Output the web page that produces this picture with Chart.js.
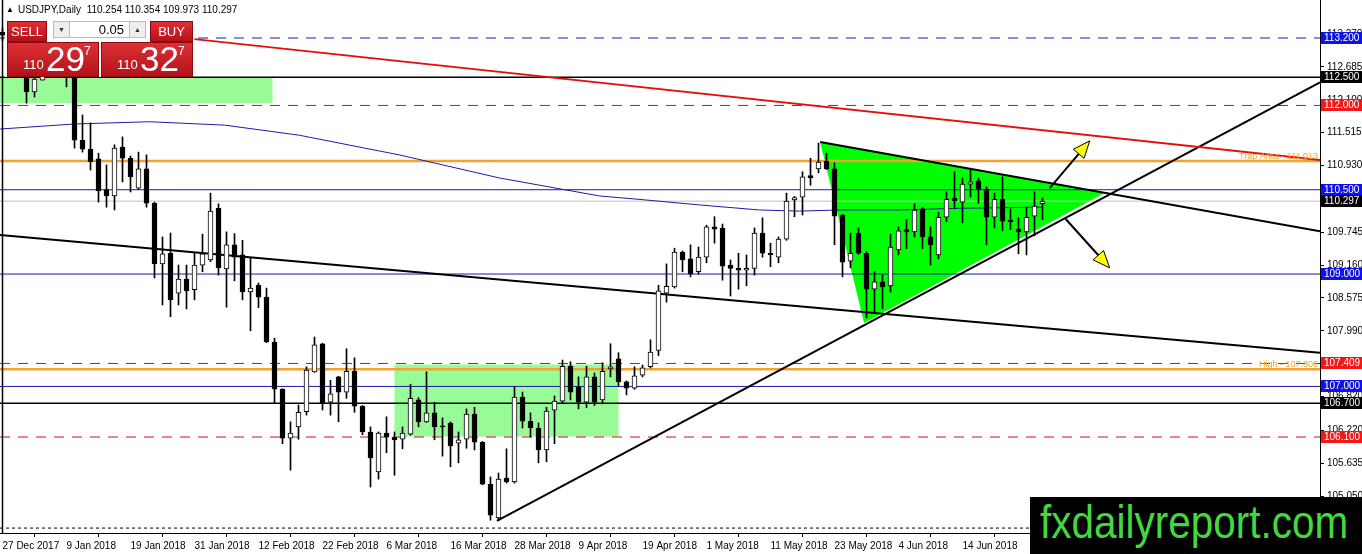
<!DOCTYPE html>
<html>
<head>
<meta charset="utf-8">
<script src="https://cdn.jsdelivr.net/npm/chart.js@4.4.1/dist/chart.umd.min.js"></script>
<style>
  html, body { margin: 0; padding: 0; background: #fff; }
  #wrap { position: relative; width: 1362px; height: 554px; overflow: hidden; font-family: 'Liberation Sans', Arial, sans-serif; }
  #chart { position: absolute; left: 0; top: 0; }
  #hdr { position: absolute; left: 5px; top: 4px; font-size: 10px; line-height: 11px; color: #000; white-space: pre; }
  #hdr .tri { font-size: 8px; vertical-align: 1px; margin-right: 4px; margin-left: 1px; }
  #panel { position: absolute; left: 5px; top: 18px; width: 188px; height: 59px; background: #fff; }
  .red { position: absolute; background: linear-gradient(#de3036, #b3121a); border: 1px solid #8e0a10; box-sizing: border-box; color: #fff; }
  .btn { top: 3px; height: 21px; font-size: 13px; line-height: 19px; text-align: center; }
  .sell { left: 2px; width: 40px; }
  .buy { left: 145px; width: 43px; }
  .spin { position: absolute; top: 3px; width: 17px; height: 17px; background: #eee; border: 1px solid #bbb; box-sizing: border-box; font-size: 7px; line-height: 15px; text-align: center; color: #333; }
  .dn { left: 48px; }
  .up { left: 124px; }
  .lot { position: absolute; left: 65px; top: 3px; width: 59px; height: 17px; border-top: 1px solid #bbb; border-bottom: 1px solid #bbb; box-sizing: border-box; font-size: 13px; line-height: 15px; text-align: right; padding-right: 5px; color: #000; }
  .quote { top: 24px; width: 92px; height: 35px; }
  .q1 { left: 2px; }
  .q2 { left: 96px; }
  .quote span { position: absolute; line-height: 1; white-space: nowrap; }
  .s1 { font-size: 13px; left: 15px; top: 15px; }
  .s2 { font-size: 35px; left: 38px; top: -2px; }
  .s3 { font-size: 12px; left: 76px; top: 2px; }
  #wm { position: absolute; left: 1030px; top: 497px; width: 332px; height: 57px; background: #000; overflow: hidden; }
  #wm span { position: absolute; left: 10px; top: 2px; font-size: 46px; line-height: 1; color: #44d83c; transform: scaleX(0.88); transform-origin: left top; white-space: nowrap; }
</style>
</head>
<body>
<div id="wrap">
  <canvas id="chart" width="1362" height="554"></canvas>
  <div id="hdr"><span class="tri">▲</span>USDJPY,Daily  110.254 110.354 109.973 110.297</div>
  <div id="panel">
    <div class="red btn sell">SELL</div>
    <div class="spin dn">▼</div>
    <div class="lot">0.05</div>
    <div class="spin up">▲</div>
    <div class="red btn buy">BUY</div>
    <div class="red quote q1"><span class="s1">110</span><span class="s2">29</span><span class="s3">7</span></div>
    <div class="red quote q2"><span class="s1">110</span><span class="s2">32</span><span class="s3">7</span></div>
  </div>
  <div id="wm"><span>fxdailyreport.com</span></div>
</div>
<script>
const dateLabels = ['27 Dec 2017', '9 Jan 2018', '19 Jan 2018', '31 Jan 2018', '12 Feb 2018', '22 Feb 2018',
  '6 Mar 2018', '16 Mar 2018', '28 Mar 2018', '9 Apr 2018', '19 Apr 2018', '1 May 2018', '11 May 2018',
  '23 May 2018', '4 Jun 2018', '14 Jun 2018'];
const barsPerLabel = 8;

const openP = [113.30, 113.25, 112.90, 112.65, 112.24, 112.45, 112.75, 113.05, 113.10, 112.60,
  111.38, 111.22, 111.05, 110.50, 110.39, 111.26, 111.06, 110.53, 110.87, 110.26,
  109.18, 109.37, 108.66, 108.91, 108.72, 109.16, 109.25, 110.17, 109.09, 109.52,
  109.34, 108.68, 108.80, 108.59, 107.79, 106.95, 106.08, 106.28, 106.55, 107.26,
  107.76, 106.72, 107.17, 106.90, 107.27, 106.65, 106.19, 105.48, 106.17, 106.10,
  106.06, 106.15, 106.76, 106.37, 106.53, 106.30, 106.35, 105.99, 106.06, 106.51,
  106.01, 105.26, 104.66, 105.37, 105.30, 106.81, 106.38, 106.26, 105.87, 106.58,
  106.74, 107.36, 106.99, 106.72, 107.17, 106.76, 107.31, 107.49, 107.08, 106.97,
  107.20, 107.35, 107.64, 108.66, 108.77, 109.39, 109.27, 109.04, 109.30, 109.84,
  109.82, 109.16, 109.10, 109.07, 109.10, 109.73, 109.37, 109.30, 109.62, 110.32,
  110.37, 110.75, 110.87, 111.01, 110.87, 110.05, 109.23, 109.73, 109.37, 108.73,
  108.86, 108.79, 109.43, 109.79, 109.75, 110.16, 109.66, 109.34, 110.01, 110.35,
  110.28, 110.60, 110.66, 110.51, 110.01, 110.33, 109.96, 109.80, 109.75, 110.03,
  110.254];
const highP = [113.38, 113.30, 112.95, 112.70, 112.60, 112.80, 113.25, 113.20, 113.35, 112.75,
  111.83, 111.69, 111.15, 110.94, 111.30, 111.44, 111.10, 111.17, 111.12, 110.28,
  109.66, 109.73, 109.16, 109.16, 109.37, 109.71, 110.44, 110.25, 109.75, 109.72,
  109.60, 109.29, 108.84, 108.75, 107.86, 106.96, 106.37, 106.67, 107.35, 107.88,
  107.77, 107.11, 107.18, 107.67, 107.51, 106.66, 106.28, 106.19, 106.46, 106.19,
  106.28, 107.04, 106.80, 107.26, 106.72, 106.44, 106.37, 106.19, 106.60, 106.63,
  106.02, 105.39, 105.46, 105.89, 106.99, 106.90, 106.53, 106.35, 106.63, 106.83,
  107.47, 107.44, 107.17, 107.36, 107.24, 107.42, 107.76, 107.60, 107.10, 107.35,
  107.38, 107.83, 108.80, 109.18, 109.46, 109.41, 109.52, 109.48, 109.87, 110.02,
  109.89, 109.25, 109.37, 109.34, 109.82, 110.00, 109.55, 109.66, 110.44, 110.38,
  110.82, 111.06, 111.33, 111.15, 110.98, 110.06, 109.73, 109.82, 109.40, 109.04,
  108.98, 109.71, 109.84, 109.97, 110.25, 110.18, 109.84, 110.10, 110.46, 110.82,
  110.71, 110.85, 110.71, 110.55, 110.44, 110.73, 110.16, 110.00, 110.19, 110.46,
  110.354];
const lowP = [113.15, 112.85, 112.55, 112.04, 112.15, 112.45, 112.70, 112.90, 112.33, 111.24,
  111.17, 110.85, 110.28, 110.19, 110.14, 110.64, 110.46, 110.50, 110.19, 108.93,
  108.45, 108.24, 108.45, 108.38, 108.54, 109.04, 109.22, 108.98, 108.41, 108.88,
  108.54, 107.99, 108.40, 107.78, 106.70, 105.98, 105.51, 106.06, 106.49, 107.25,
  106.58, 106.49, 106.37, 106.79, 106.54, 106.14, 105.21, 105.35, 105.82, 105.42,
  105.89, 106.13, 106.28, 106.36, 106.05, 105.76, 105.57, 105.64, 105.90, 105.87,
  105.25, 104.62, 104.61, 105.28, 105.28, 106.26, 106.10, 105.64, 105.66, 105.98,
  106.71, 106.76, 106.60, 106.62, 106.66, 106.69, 107.17, 107.01, 106.85, 106.95,
  107.17, 107.33, 107.55, 108.50, 108.75, 109.04, 108.95, 109.00, 109.20, 109.55,
  108.89, 108.61, 108.73, 108.79, 108.98, 109.30, 109.13, 109.20, 109.60, 110.02,
  110.05, 110.58, 110.80, 110.86, 109.52, 108.95, 109.11, 109.35, 108.22, 108.31,
  108.38, 108.68, 109.34, 109.45, 109.66, 109.45, 109.16, 109.27, 109.93, 110.16,
  109.91, 110.37, 110.26, 109.52, 109.82, 109.77, 109.79, 109.36, 109.34, 109.68,
  109.973];
const closeP = [113.25, 112.90, 112.65, 112.24, 112.47, 112.75, 113.05, 113.10, 112.62, 111.38,
  111.22, 111.00, 110.48, 110.39, 111.24, 111.06, 110.73, 110.87, 110.26, 109.18,
  109.36, 108.54, 108.91, 108.70, 109.16, 109.36, 110.12, 109.11, 109.52, 109.30,
  108.68, 108.75, 108.59, 107.79, 106.95, 106.08, 106.17, 106.54, 107.29, 107.74,
  106.71, 106.87, 106.90, 107.27, 106.65, 106.19, 105.73, 106.17, 106.10, 106.05,
  106.17, 106.79, 106.37, 106.53, 106.28, 106.28, 105.94, 106.05, 106.51, 106.01,
  105.26, 104.71, 105.35, 105.30, 106.81, 106.38, 106.26, 105.87, 106.56, 106.74,
  107.36, 106.90, 106.72, 107.17, 106.72, 107.27, 107.35, 107.08, 106.97, 107.19,
  107.33, 107.61, 108.70, 108.78, 109.39, 109.25, 109.00, 109.30, 109.84, 109.80,
  109.14, 109.10, 109.07, 109.10, 109.73, 109.37, 109.34, 109.62, 110.30, 110.36,
  110.73, 110.71, 110.99, 110.87, 110.03, 109.21, 109.37, 109.37, 108.73, 108.86,
  108.77, 109.48, 109.77, 109.75, 110.14, 109.66, 109.52, 110.01, 110.33, 110.30,
  110.60, 110.64, 110.51, 110.01, 110.33, 109.94, 109.93, 109.75, 110.01, 110.21,
  110.297];

const priceTicks = [105.050, 105.635, 106.220, 106.820, 107.405, 107.990, 108.575, 109.160,
  109.745, 110.345, 110.930, 111.515, 112.100, 112.685, 113.270];

// MA curve read at a few bars
const maBars = [-0.3, 9, 18.4, 27.75, 37.1, 49.6, 62.1, 74.6, 80.25, 87.1, 94.6, 99.6, 104.6, 112.1, 119.6, 130];
const maValues = [111.58, 111.67, 111.71, 111.65, 111.47, 111.12, 110.71, 110.39, 110.32, 110.23, 110.14, 110.12, 110.14, 110.14, 110.17, 110.19];

const blueDashLevels = [113.2];
const blackLevels = [112.5, 106.7];
const redDashLevels = [112.0, 107.409, 106.1];
const blueLevels = [110.5, 109.0, 107.0];
const orangeLevels = [111.013, 107.306];
const orangeNotes = ['Trap Area - 111.013', 'High - 107.306'];
const lastPrice = 110.297;
const floorLevel = 104.48;

// trend lines as [bar, price] pairs
const xMin = -0.3125, xMax = 164.6875;
const yMax = 113.8762, yMin = 104.3922;
const redTrend = [[24, 113.18], [xMax, 111.03]];
const longTrend = [[xMin, 109.695], [xMax, 107.60]];
const supportTrend = [[61.8, 104.61], [xMax, 112.41]];
const wedgeTop = [[102.2, 111.35], [xMax, 109.76]];
const wedge = [[102.2, 111.35], [107.7, 108.13], [137.75, 110.44]];
const zoneTopBars = [xMin, 33.75], zoneTopPrices = [112.5, 112.04];
const zoneLowBars = [49, 77], zoneLowPrices = [107.39, 106.11];
const arrowUp = [[130.9, 110.53], [135.9, 111.37]];
const arrowDown = [[132.9, 109.98], [138.4, 109.11]];

const FONT = "'Liberation Sans', Arial, sans-serif";

function pts(list) {
  return list.map(p => ({x: p[0], y: p[1]}));
}

function lineSet(list, color, width, dash, order) {
  return {
    type: 'line', data: pts(list), borderColor: color, borderWidth: width,
    borderDash: dash || [], pointRadius: 0, fill: false, tension: 0, order: order
  };
}

function shapeSet(list, color, order) {
  return {
    type: 'line', data: pts(list), backgroundColor: color, borderWidth: 0,
    pointRadius: 0, fill: 'shape', tension: 0, order: order
  };
}

function rect(bars, prices) {
  return [[bars[0], prices[0]], [bars[1], prices[0]], [bars[1], prices[1]], [bars[0], prices[1]]];
}

function levelSets(levels, color, width, dash, order) {
  return levels.map(v => lineSet([[xMin, v], [xMax, v]], color, width, dash, order));
}

const idx = openP.map((_, i) => i);
const wickData = idx.map(i => ({x: i, y: [lowP[i], highP[i]]}));
const bodyData = idx.map(i => ({x: i, y: [Math.min(openP[i], closeP[i]), Math.max(openP[i], closeP[i])]}));
const bodyFill = idx.map(i => closeP[i] >= openP[i] ? '#ffffff' : '#000000');

const datasets = [
  {type: 'bar', data: bodyData, backgroundColor: bodyFill, borderColor: '#000', borderWidth: 1,
    borderSkipped: false, barThickness: 5, grouped: false, order: 0},
  {type: 'bar', data: wickData, backgroundColor: '#000', borderWidth: 0,
    barThickness: 1, grouped: false, order: 1},
  lineSet(redTrend, '#e41010', 2, null, 3),
  lineSet(longTrend, '#000', 2, null, 3),
  lineSet(supportTrend, '#000', 2, null, 3),
  lineSet(wedgeTop, '#000', 2, null, 3),
  lineSet(maBars.map((b, i) => [b, maValues[i]]), '#1c1ca8', 1, null, 6),
  ...levelSets(orangeLevels, '#f0a430', 2.5, null, 7),
  ...levelSets(blueLevels, '#1a1aa6', 1, null, 8),
  ...levelSets(blueDashLevels, '#1a1aa6', 1, [10, 8], 8),
  ...levelSets(blackLevels, '#000', 1.5, null, 8),
  ...levelSets(redDashLevels, '#d01010', 1, [10, 8], 8),
  ...levelSets([lastPrice], '#c0c0c0', 1, null, 9),
  ...levelSets([floorLevel], '#000', 1, [3, 3], 9),
  shapeSet(wedge, '#00ff00', 20),
  shapeSet(rect(zoneTopBars, zoneTopPrices), '#98fb98', 21),
  shapeSet(rect(zoneLowBars, zoneLowPrices), '#98fb98', 21)
];

function fixAxis(w, h) {
  return function (scale) {
    if (w) scale.width = w;
    if (h) scale.height = h;
    scale.paddingTop = 0; scale.paddingBottom = 0;
    scale.paddingLeft = 0; scale.paddingRight = 0;
  };
}

function drawArrow(ctx, x1, y1, x2, y2) {
  const a = Math.atan2(y2 - y1, x2 - x1);
  const len = 17, half = 7;
  const bx = x2 - len * Math.cos(a), by = y2 - len * Math.sin(a);
  ctx.strokeStyle = '#000';
  ctx.lineWidth = 2;
  ctx.beginPath(); ctx.moveTo(x1, y1); ctx.lineTo(bx, by); ctx.stroke();
  ctx.beginPath();
  ctx.moveTo(x2, y2);
  ctx.lineTo(bx + half * Math.sin(a), by - half * Math.cos(a));
  ctx.lineTo(bx - half * Math.sin(a), by + half * Math.cos(a));
  ctx.closePath();
  ctx.fillStyle = '#ffff00';
  ctx.fill();
  ctx.lineWidth = 1;
  ctx.stroke();
}

const overlay = {
  id: 'overlay',
  afterDatasetsDraw(chart) {
    const {ctx, chartArea} = chart;
    const x = chart.scales.x, y = chart.scales.y;
    ctx.save();
    // left vertical line at first bar
    ctx.strokeStyle = '#000';
    ctx.lineWidth = 1.5;
    ctx.beginPath();
    ctx.moveTo(x.getPixelForValue(0), chartArea.top);
    ctx.lineTo(x.getPixelForValue(0), chartArea.bottom);
    ctx.stroke();

    [arrowUp, arrowDown].forEach(ar => {
      drawArrow(ctx, x.getPixelForValue(ar[0][0]), y.getPixelForValue(ar[0][1]),
        x.getPixelForValue(ar[1][0]), y.getPixelForValue(ar[1][1]));
    });

    ctx.font = '9px ' + FONT;
    ctx.fillStyle = '#f0a430';
    ctx.textAlign = 'right';
    ctx.textBaseline = 'alphabetic';
    orangeLevels.forEach((v, i) => {
      ctx.fillText(orangeNotes[i], chartArea.right - 2, y.getPixelForValue(v) - 2);
    });
    ctx.restore();
  },
  afterDraw(chart) {
    const {ctx, chartArea} = chart;
    const y = chart.scales.y;
    const boxes = [];
    blueDashLevels.concat(blueLevels).forEach(v => boxes.push([v, '#1010e8']));
    blackLevels.concat([lastPrice]).forEach(v => boxes.push([v, '#000000']));
    redDashLevels.forEach(v => boxes.push([v, '#f01818']));
    ctx.save();
    ctx.font = '10px ' + FONT;
    ctx.textAlign = 'left';
    ctx.textBaseline = 'middle';
    boxes.forEach(([v, c]) => {
      const py = Math.round(y.getPixelForValue(v));
      ctx.fillStyle = c;
      ctx.fillRect(chartArea.right + 1, py - 6, 41, 12);
      ctx.fillStyle = '#fff';
      ctx.fillText(v.toFixed(3), chartArea.right + 4, py + 0.5);
    });
    ctx.restore();
  }
};

new Chart(document.getElementById('chart'), {
  type: 'bar',
  data: {datasets: datasets},
  options: {
    responsive: false,
    animation: false,
    devicePixelRatio: 1,
    layout: {padding: 0},
    plugins: {legend: {display: false}, tooltip: {enabled: false}},
    scales: {
      x: {
        type: 'linear', min: xMin, max: xMax, offset: false,
        grid: {drawOnChartArea: false, drawTicks: true, tickLength: 4, tickColor: '#000'},
        border: {display: true, color: '#000', width: 1},
        afterBuildTicks: s => { s.ticks = dateLabels.map((_, i) => ({value: i * barsPerLabel})); },
        afterFit: fixAxis(0, 21),
        ticks: {
          autoSkip: false, maxRotation: 0, align: 'start', padding: 3, color: '#000',
          font: {family: FONT, size: 10},
          callback: v => dateLabels[Math.round(v / barsPerLabel)]
        }
      },
      y: {
        type: 'linear', position: 'right', min: yMin, max: yMax,
        grid: {drawOnChartArea: false, drawTicks: true, tickLength: 4, tickColor: '#000'},
        border: {display: true, color: '#000', width: 1},
        afterBuildTicks: s => { s.ticks = priceTicks.map(v => ({value: v})); },
        afterFit: fixAxis(42, 0),
        ticks: {
          padding: 3, color: '#000', font: {family: FONT, size: 10},
          callback: v => v.toFixed(3)
        }
      }
    }
  },
  plugins: [overlay]
});
</script>
</body>
</html>
